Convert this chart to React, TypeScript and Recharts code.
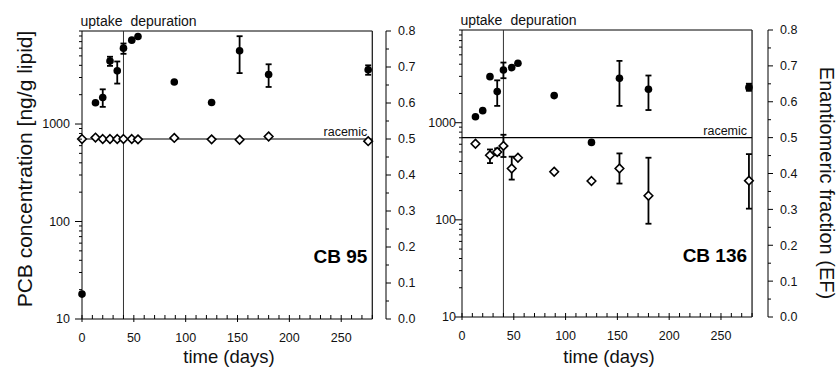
import { ScatterChart, Scatter, XAxis, YAxis, ReferenceLine, ErrorBar } from "recharts";

const FONT = '"Liberation Sans", Arial, sans-serif';

// tick values
const dayTicks = [0, 10, 20, 30, 40, 50, 60, 70, 80, 90, 100, 110, 120, 130, 140, 150, 160, 170, 180, 190, 200, 210, 220, 230, 240, 250, 260, 270, 280];
const concTicks = [10, 20, 30, 40, 50, 60, 70, 80, 90, 100, 200, 300, 400, 500, 600, 700, 800, 900, 1000, 2000, 3000, 4000, 5000, 6000, 7000, 8000, 9000];
const efTicks = [0, 0.05, 0.1, 0.15, 0.2, 0.25, 0.3, 0.35, 0.4, 0.45, 0.5, 0.55, 0.6, 0.65, 0.7, 0.75, 0.8];

// CB 95 - concentration (ng/g lipid)
const days95 = [0, 13, 20, 27, 34, 40, 48, 54, 89, 125, 152, 180, 276];
const conc95 = [18, 1650, 1870, 4420, 3510, 6000, 7250, 7900, 2700, 1660, 5640, 3220, 3600];
const concLo95 = [null, null, 1500, 3950, 2600, 5250, null, null, null, null, 3330, 2400, 3200];
const concHi95 = [null, null, 2270, 4900, 4380, 6700, null, null, null, null, 7960, 4100, 4000];
// CB 95 - enantiomeric fraction
const ef95 = [0.5, 0.504, 0.5, 0.5, 0.5, 0.5, 0.5, 0.499, 0.503, 0.499, 0.498, 0.507, 0.494];

// CB 136 - concentration
const days136 = [13, 20, 27, 34, 40, 48, 54, 89, 125, 152, 180, 277];
const conc136 = [1150, 1330, 2980, 2090, 3490, 3690, 4090, 1900, 627, 2860, 2210, 2310];
const concLo136 = [null, null, null, 1490, 2870, null, null, null, null, 1490, 1350, 2130];
const concHi136 = [null, null, null, 2730, 4160, null, null, null, null, 4330, 3060, 2520];
// CB 136 - enantiomeric fraction
const efDays136 = [13, 27, 34, 40, 48, 54, 89, 125, 152, 180, 277];
const ef136 = [0.483, 0.451, 0.46, 0.477, 0.414, 0.444, 0.405, 0.379, 0.414, 0.338, 0.38];
const efLo136 = [null, 0.429, 0.451, 0.446, 0.383, null, null, null, 0.372, 0.26, 0.302];
const efHi136 = [null, 0.467, 0.47, 0.508, 0.447, null, null, null, 0.456, 0.444, 0.454];

type Row = { day: number; v: number; err?: [number, number] };

function toRows(days: number[], vals: number[], lo?: (number | null)[], hi?: (number | null)[]): Row[] {
  return days.map((d, i) => {
    const l = lo ? lo[i] : null;
    const h = hi ? hi[i] : null;
    return {
      day: d,
      v: vals[i],
      err: l != null && h != null ? [vals[i] - l, h - vals[i]] : undefined,
    };
  });
}

const XTick = (props: any) => {
  const { x, y, payload } = props;
  const major = payload.value % 50 === 0 && payload.value <= 250;
  return (
    <g>
      <line x1={x} x2={x} y1={major ? y + 3 : y} y2={y - 4} stroke="#000" strokeWidth={1} />
      {major && (
        <text x={x} y={y + 23} textAnchor="middle" fontSize={12.5} fontFamily={FONT} fill="#111">
          {payload.value}
        </text>
      )}
    </g>
  );
};

const LogTick = (props: any) => {
  const { x, y, payload, gap } = props;
  const lg = Math.log10(payload.value);
  const major = Math.abs(lg - Math.round(lg)) < 1e-9;
  return (
    <g>
      <line x1={x - (major ? 7 : 3)} x2={x} y1={y} y2={y} stroke="#000" strokeWidth={1} />
      {major && (
        <text x={x - gap} y={y} dy="0.35em" textAnchor="end" fontSize={12.5} fontFamily={FONT} fill="#111">
          {payload.value}
        </text>
      )}
    </g>
  );
};

const EfTick = (props: any) => {
  const { x, y, payload } = props;
  const major = Math.round(payload.value * 100) % 10 === 0;
  return (
    <g>
      <line x1={x} x2={x + (major ? 5 : 3)} y1={y} y2={y} stroke="#000" strokeWidth={1} />
      {major && (
        <text x={x + 12} y={y} dy="0.35em" textAnchor="start" fontSize={12.5} fontFamily={FONT} fill="#111">
          {payload.value.toFixed(1)}
        </text>
      )}
    </g>
  );
};

const Dot = (p: any) => <circle cx={p.cx} cy={p.cy} r={3.8} fill="#000" />;

const Diamond = (p: any) => {
  const s = 4.3;
  const { cx, cy } = p;
  return (
    <polygon
      points={`${cx},${cy - s} ${cx + s},${cy} ${cx},${cy + s} ${cx - s},${cy}`}
      fill="#fff"
      stroke="#000"
      strokeWidth={1.6}
    />
  );
};

interface PanelProps {
  conc: Row[];
  ef: Row[];
  xMax: number;
  top: number;
  xAxisHeight: number;
  leftW: number;
  rightW: number;
  labelGap: number;
  title: string;
  leftTitle?: boolean;
  rightTitle?: boolean;
}

function Panel({ conc, ef, xMax, top, xAxisHeight, leftW, rightW, labelGap, title, leftTitle, rightTitle }: PanelProps) {
  return (
    <ScatterChart width={420} height={369} margin={{ top, right: 0, bottom: 0, left: 0 }}>
      <XAxis
        type="number"
        dataKey="day"
        domain={[0, xMax]}
        ticks={dayTicks}
        interval={0}
        tick={<XTick />}
        tickLine={false}
        tickSize={0}
        tickMargin={0}
        axisLine={false}
        height={xAxisHeight}
        label={(p: any) => {
          const vb = p.viewBox;
          return (
            <text x={vb.x + 147} y={363} textAnchor="middle" fontSize={18.5} fontFamily={FONT} fill="#111">
              time (days)
            </text>
          );
        }}
      />
      <YAxis
        yAxisId="c"
        type="number"
        dataKey="v"
        scale="log"
        domain={[10, 9000]}
        ticks={concTicks}
        interval={0}
        tick={<LogTick gap={labelGap} />}
        tickLine={false}
        tickSize={0}
        tickMargin={0}
        width={leftW}
        axisLine={{ stroke: "#000" }}
        label={
          leftTitle
            ? (p: any) => {
                const vb = p.viewBox;
                const cx = vb.x + 24;
                const cy = vb.y + 138;
                return (
                  <text
                    transform={`translate(${cx},${cy}) rotate(-90)`}
                    textAnchor="middle"
                    dominantBaseline="central"
                    fontSize={21}
                    fontFamily={FONT}
                    fill="#111"
                  >
                    PCB concentration [ng/g lipid]
                  </text>
                );
              }
            : undefined
        }
      />
      <YAxis
        yAxisId="ef"
        orientation="right"
        type="number"
        dataKey="v"
        domain={[0, 0.8]}
        ticks={efTicks}
        interval={0}
        tick={<EfTick />}
        tickLine={false}
        tickSize={0}
        tickMargin={0}
        width={rightW}
        axisLine={{ stroke: "#000" }}
        label={
          rightTitle
            ? (p: any) => {
                const vb = p.viewBox;
                const cx = vb.x + 59;
                const cy = vb.y + 153;
                return (
                  <text
                    transform={`translate(${cx},${cy}) rotate(90)`}
                    textAnchor="middle"
                    dominantBaseline="central"
                    fontSize={20}
                    fontFamily={FONT}
                    fill="#111"
                  >
                    Enantiomeric fraction (EF)
                  </text>
                );
              }
            : undefined
        }
      />

      {/* frame: top, bottom and right border of the plot */}
      <ReferenceLine yAxisId="c" segment={[{ x: 0, y: 9000 }, { x: 280, y: 9000 }]} stroke="#000" strokeWidth={1} />
      <ReferenceLine yAxisId="c" segment={[{ x: 0, y: 10 }, { x: 280, y: 10 }]} stroke="#000" strokeWidth={1} />
      <ReferenceLine
        yAxisId="c"
        x={280}
        stroke="#222"
        strokeWidth={1.3}
        label={(p: any) => {
          const vb = p.viewBox;
          return (
            <text x={vb.x - 5} y={vb.y + 232} textAnchor="end" fontSize={19} fontWeight="bold" fontFamily={FONT} fill="#000">
              {title}
            </text>
          );
        }}
      />

      {/* uptake / depuration split */}
      <ReferenceLine
        yAxisId="c"
        x={40}
        stroke="#333"
        strokeWidth={1}
        label={(p: any) => {
          const vb = p.viewBox;
          return (
            <g>
              <text x={vb.x - 1} y={vb.y - 5} textAnchor="end" fontSize={14} fontFamily={FONT} fill="#111">
                uptake
              </text>
              <text x={vb.x + 7} y={vb.y - 5} textAnchor="start" fontSize={14} fontFamily={FONT} fill="#111">
                depuration
              </text>
            </g>
          );
        }}
      />

      {/* racemic EF */}
      <ReferenceLine
        yAxisId="ef"
        segment={[{ x: 0, y: 0.5 }, { x: 280, y: 0.5 }]}
        stroke="#000"
        strokeWidth={1.2}
        label={(p: any) => {
          const vb = p.viewBox;
          return (
            <text x={vb.x + vb.width - 5} y={vb.y - 3} textAnchor="end" fontSize={12.5} fontFamily={FONT} fill="#111">
              racemic
            </text>
          );
        }}
      />

      <Scatter yAxisId="c" data={conc} shape={Dot} isAnimationActive={false}>
        <ErrorBar dataKey="err" direction="y" width={3} stroke="#000" strokeWidth={1.8} />
      </Scatter>
      <Scatter yAxisId="ef" data={ef} shape={Diamond} isAnimationActive={false}>
        <ErrorBar dataKey="err" direction="y" width={3} stroke="#000" strokeWidth={1.8} />
      </Scatter>
    </ScatterChart>
  );
}

export default function App() {
  const c95 = toRows(days95, conc95, concLo95, concHi95);
  const e95 = toRows(days95, ef95);
  const c136 = toRows(days136, conc136, concLo136, concHi136);
  const e136 = toRows(efDays136, ef136, efLo136, efHi136);

  return (
    <div
      style={{
        position: "absolute",
        left: 0,
        top: 0,
        width: 840,
        height: 369,
        background: "#fff",
        fontFamily: FONT,
      }}
    >
      <div style={{ position: "absolute", left: 0, top: 0 }}>
        <Panel
          conc={c95}
          ef={e95}
          xMax={293.2}
          top={31}
          xAxisHeight={50}
          leftW={82}
          rightW={34}
          labelGap={12}
          title="CB 95"
          leftTitle
        />
      </div>
      <div style={{ position: "absolute", left: 420, top: 0 }}>
        <Panel
          conc={c136}
          ef={e136}
          xMax={295.4}
          top={30}
          xAxisHeight={52}
          leftW={42}
          rightW={72}
          labelGap={6}
          title="CB 136"
          rightTitle
        />
      </div>
    </div>
  );
}
